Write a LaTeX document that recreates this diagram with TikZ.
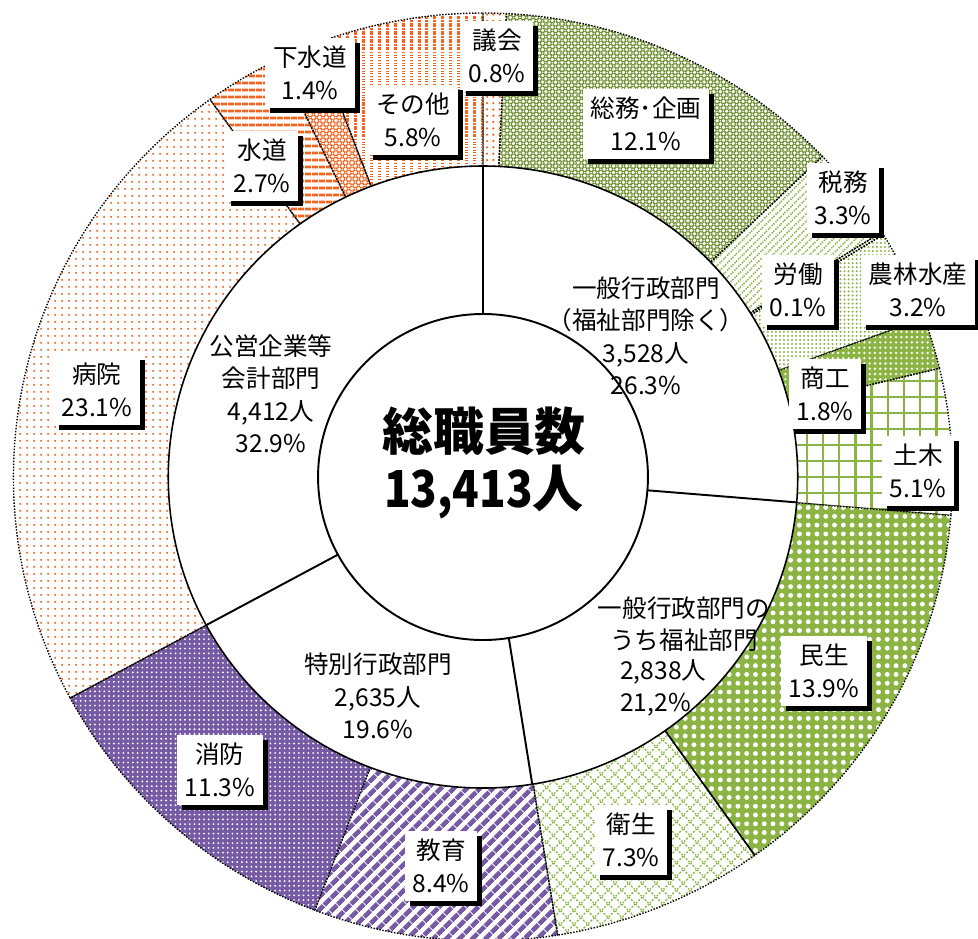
\documentclass[tikz,border=0pt]{standalone}
\usepackage{fontspec}
\setmainfont{Noto Sans CJK JP}
\usepackage{tikz}
\usetikzlibrary{patterns.meta}
\usetikzlibrary{shadows}
\definecolor{grn}{RGB}{140,180,68}
\definecolor{grnD}{RGB}{108,142,46}
\definecolor{org}{RGB}{242,100,30}
\definecolor{prp}{RGB}{118,90,164}
\newcommand{\lblfont}{\fontsize{14}{18.5}\selectfont}

\begin{document}
\begin{tikzpicture}[x=0.02cm, y=0.02cm,
  seg/.style = {draw, line width=0.8pt, dash pattern=on 0.8pt off 0.9pt},
  gikai/.style = {seg, pattern={Dots[radius=0.7pt, distance=3.6pt]}, pattern color=org},
  somu/.style = {seg, pattern={Hatch[angle=45, distance=2.6pt, line width=1pt]}, pattern color=grnD},
  zeimu/.style = {seg, pattern={Lines[angle=45, distance=3pt, line width=0.9pt]}, pattern color=grn},
  rodo/.style = {seg, pattern={Dots[radius=0.65pt, distance=2.3pt]}, pattern color=grn},
  norin/.style = {seg, pattern={Dots[radius=0.65pt, distance=2.3pt]}, pattern color=grn},
  shoko/.style = {seg, preaction={fill=grn}, pattern={Dots[radius=0.75pt, distance=3pt]}, pattern color=white},
  doboku/.style = {draw=grn, line width=1.3pt},
  minsei/.style = {seg, preaction={fill=grn}, pattern={Dots[radius=1.4pt, distance=5pt]}, pattern color=white},
  eisei/.style = {seg, pattern={Hatch[angle=45, distance=5.5pt, line width=0.8pt]}, pattern color=grn},
  kyoiku/.style = {seg, pattern={Lines[angle=45, distance=5.4pt, line width=2.7pt]}, pattern color=prp},
  shobo/.style = {seg, preaction={fill=prp}, pattern={Dots[radius=0.6pt, distance=2.7pt]}, pattern color=white},
  byoin/.style = {seg, pattern={Dots[radius=0.7pt, distance=4pt]}, pattern color=org},
  suido/.style = {seg, pattern={Lines[angle=0, distance=4pt, line width=1.8pt]}, pattern color=org},
  gesuido/.style = {seg, pattern={Hatch[angle=45, distance=2.6pt, line width=0.9pt]}, pattern color=org},
  sonota/.style = {seg, pattern={Lines[angle=90, distance=4.5pt, line width=1.7pt]}, pattern color=org},
  lbl/.style = {fill=white, align=center, inner xsep=4.5pt, inner ysep=4.5pt, font=\lblfont,
    general shadow={fill=black, shadow xshift=2.8pt, shadow yshift=-2.8pt}},
  dept/.style = {align=center, font=\lblfont}]
  \useasboundingbox (0,0) rectangle (978,-938);
  \begin{scope}[shift={(483,-477)}, xscale=1.012]
    \def\rin{163} \def\rmid{311} \def\rout{464}
    % outer ring
    \path[gikai] (0,0) -- (90:\rout) arc[start angle=90, end angle=87.13, radius=\rout] -- cycle;
    \path[somu] (0,0) -- (87.13:\rout) arc[start angle=87.13, end angle=43.70, radius=\rout] -- cycle;
    \path[zeimu] (0,0) -- (43.70:\rout) arc[start angle=43.70, end angle=31.86, radius=\rout] -- cycle;
    \path[rodo] (0,0) -- (31.86:\rout) arc[start angle=31.86, end angle=31.50, radius=\rout] -- cycle;
    \path[norin] (0,0) -- (31.50:\rout) arc[start angle=31.50, end angle=20.01, radius=\rout] -- cycle;
    \path[shoko] (0,0) -- (20.01:\rout) arc[start angle=20.01, end angle=13.55, radius=\rout] -- cycle;
    \begin{scope}
      \clip (0,0) -- (13.55:\rout) arc[start angle=13.55, end angle=-4.75, radius=\rout] -- cycle;
      \draw[doboku] (290,-50) grid[step=16] (480,120);
    \end{scope}
    \path[seg] (0,0) -- (13.55:\rout) arc[start angle=13.55, end angle=-4.75, radius=\rout] -- cycle;
    \path[minsei] (0,0) -- (-4.75:\rout) arc[start angle=-4.75, end angle=-54.64, radius=\rout] -- cycle;
    \path[eisei] (0,0) -- (-54.64:\rout) arc[start angle=-54.64, end angle=-80.85, radius=\rout] -- cycle;
    \path[kyoiku] (0,0) -- (-80.85:\rout) arc[start angle=-80.85, end angle=-110.99, radius=\rout] -- cycle;
    \path[shobo] (0,0) -- (-110.99:\rout) arc[start angle=-110.99, end angle=-151.55, radius=\rout] -- cycle;
    \path[byoin] (0,0) -- (-151.55:\rout) arc[start angle=-151.55, end angle=-234.46, radius=\rout] -- cycle;
    \path[suido] (0,0) -- (-234.46:\rout) arc[start angle=-234.46, end angle=-244.15, radius=\rout] -- cycle;
    \path[gesuido] (0,0) -- (-244.15:\rout) arc[start angle=-244.15, end angle=-249.18, radius=\rout] -- cycle;
    \path[sonota] (0,0) -- (-249.18:\rout) arc[start angle=-249.18, end angle=-270, radius=\rout] -- cycle;
    \draw[line width=0.8pt] (-54.64:\rmid) -- (-54.64:\rout);
    % inner ring
    \draw[fill=white, line width=0.9pt] (0,0) circle[radius=\rmid];
    \draw[line width=1.1pt] (0,0) circle[radius=\rin];
    \draw[line width=1.1pt] (90:\rin) -- (90:\rmid);
    \draw[line width=1.1pt] (-4.68:\rin) -- (-4.68:\rmid);
    \draw[line width=1.1pt] (-81:\rin) -- (-81:\rmid);
    \draw[line width=1.1pt] (-151.56:\rin) -- (-151.56:\rmid);
  \end{scope}
  \node[font=\fontsize{29}{32}\selectfont\bfseries, align=center] (total) at (484,-463) {総職員数\\{\addfontfeature{FakeStretch=0.86}13,413}人};
  \node[dept] (ippan) at (646,-336) {一般行政部門\\（福祉部門除く）\\3,528人\\26.3\%};
  \node[dept] (koei) at (271,-394) {公営企業等\\会計部門\\4,412人\\32.9\%};
  \node[dept] (tokubetsu) at (378,-696) {特別行政部門\\2,635人\\19.6\%};
  \node[dept] (fukushi) at (684,-624) {一般行政部門の\\うち福祉部門};
  \node[dept, align=left, anchor=west] (fukushiN) at (614,-688) {2,838人\\21,2\%};
  % labels
  \node[lbl] (gikai) at (497,-56) {議会\\0.8\%};
  \node[lbl] (somu) at (646,-124) {総務･企画\\12.1\%};
  \node[lbl] (zeimu) at (843,-198) {税務\\3.3\%};
  \node[lbl] (rodo) at (798,-290) {労働\\0.1\%};
  \node[lbl] (norin) at (918,-290) {農林水産\\3.2\%};
  \node[lbl] (shoko) at (825,-394) {商工\\1.8\%};
  \node[lbl] (doboku) at (918,-471) {土木\\5.1\%};
  \node[lbl] (minsei) at (824,-671) {民生\\13.9\%};
  \node[lbl] (eisei) at (631,-840) {衛生\\7.3\%};
  \node[lbl] (kyoiku) at (441,-866) {教育\\8.4\%};
  \node[lbl] (shobo) at (220,-770) {消防\\11.3\%};
  \node[lbl] (byoin) at (97,-390) {病院\\23.1\%};
  \node[lbl] (suido) at (262,-166) {水道\\2.7\%};
  \node[lbl] (gesuido) at (310,-73) {下水道\\1.4\%};
  \node[lbl] (sonota) at (413,-120) {その他\\5.8\%};
\end{tikzpicture}
\end{document}
